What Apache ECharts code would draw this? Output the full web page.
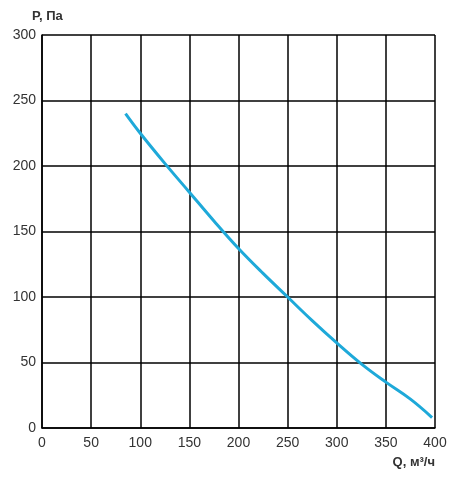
<!DOCTYPE html>
<html><head><meta charset="utf-8">
<script src="https://cdn.jsdelivr.net/npm/echarts@6/dist/echarts.min.js"></script>
<style>html,body{margin:0;padding:0;background:#fff}#c{width:462px;height:480px}</style>
</head><body><div id="c"></div>
<script>
var flow = [85, 100, 125, 150, 175, 200, 225, 250, 275, 300, 325, 350, 375, 397];
var pressure = [240, 225, 202, 180, 158, 137, 118, 100, 82, 65, 49, 35, 22, 8];

var chart = echarts.init(document.getElementById('c'));
var pts = flow.map(function (q, i) { return [q, pressure[i]]; });
chart.setOption({
    animation: false,
    grid: {left: 42, right: 27, top: 35, bottom: 52},
    xAxis: {
        type: 'value', min: 0, max: 400, interval: 50,
        name: 'Q, м³/ч', nameLocation: 'end', nameGap: 0,
        nameTextStyle: {fontFamily: 'Arial', fontWeight: 'bold', fontSize: 13, color: '#333', align: 'right', verticalAlign: 'top', padding: [28, 0, 0, 0]},
        axisLine: {lineStyle: {color: '#000', width: 1.5}},
        axisTick: {show: false},
        axisLabel: {fontFamily: 'Arial', fontSize: 14, color: '#333', margin: 8},
        splitLine: {lineStyle: {color: '#000', width: 1.5}}
    },
    yAxis: {
        type: 'value', min: 0, max: 300, interval: 50,
        name: 'P, Па', nameLocation: 'end', nameGap: 0,
        nameTextStyle: {fontFamily: 'Arial', fontWeight: 'bold', fontSize: 13, color: '#333', align: 'left', verticalAlign: 'bottom', padding: [0, 0, 12, -10]},
        axisLine: {show: true, lineStyle: {color: '#000', width: 1.5}},
        axisTick: {show: false},
        axisLabel: {fontFamily: 'Arial', fontSize: 14, color: '#333', margin: 6},
        splitLine: {lineStyle: {color: '#000', width: 1.5}}
    },
    series: [{
        type: 'line', data: pts, smooth: 0.4, symbol: 'none',
        lineStyle: {color: '#1ea9d9', width: 3}
    }]
});
</script></body></html>
